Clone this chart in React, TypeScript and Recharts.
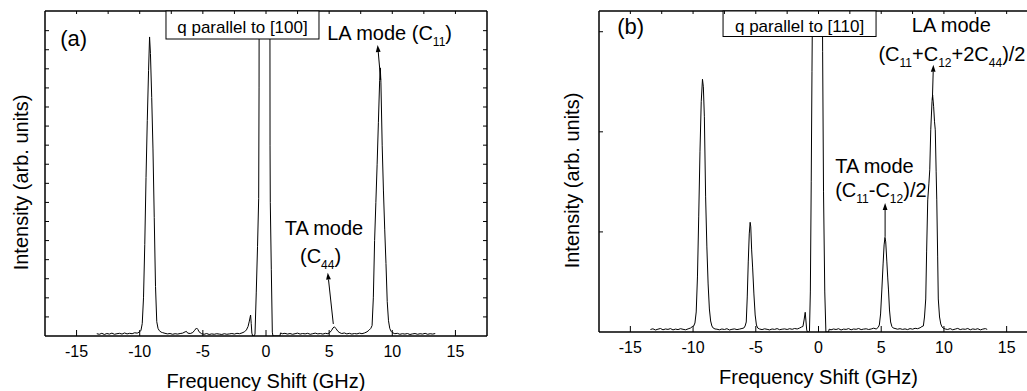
import { LineChart, Line, XAxis, YAxis, ReferenceDot, ReferenceLine } from "recharts";

type Pt = [number, number];

const FONT = "'Liberation Sans', Arial, Helvetica, sans-serif";
const SUB_DY = 6;

// ---- shared axis ticks (GHz) ----
const BOTTOM_TICKS = [-15, -10, -5, 0, 5, 10, 15];
const TOP_TICKS = [-15, -12.5, -10, -7.5, -5, -2.5, 0, 2.5, 5, 7.5, 10, 12.5, 15];
const X_DOMAIN: [number, number] = [-17.5, 17.5];

// ---- panel (a): q parallel to [100] ----
const A_Y_TICKS = [100, 200, 300, 400, 500, 600, 700, 800, 900, 1000, 1100, 1200, 1300, 1400, 1500, 1600];
const A_Y_TOP = 1703;

const A_BASE_1: Pt[] = [
  [-13.4, 12], [-13.2, 9], [-13.0, 14], [-12.8, 8], [-12.6, 13], [-12.4, 10], [-12.2, 15], [-12.0, 9],
  [-11.8, 12], [-11.6, 14], [-11.4, 10], [-11.2, 16], [-11.0, 11], [-10.8, 14], [-10.6, 12], [-10.4, 17], [-10.2, 15],
];
const A_PEAK_1: Pt[] = [
  [-10.0, 22], [-9.9, 30], [-9.8, 65], [-9.7, 200], [-9.6, 480], [-9.5, 830], [-9.4, 1130], [-9.3, 1390],
  [-9.22, 1567], [-9.15, 1480], [-9.05, 1250], [-8.95, 980], [-8.85, 620], [-8.75, 260], [-8.65, 75],
  [-8.55, 40], [-8.45, 28], [-8.3, 20],
];
const A_BASE_2: Pt[] = [
  [-8.2, 18], [-8.0, 14], [-7.8, 11], [-7.6, 13], [-7.4, 9], [-7.2, 12], [-7.0, 10], [-6.8, 13], [-6.6, 15],
  [-6.4, 22], [-6.3, 24], [-6.2, 15], [-6.0, 13], [-5.8, 18], [-5.65, 30], [-5.5, 42], [-5.4, 35], [-5.3, 22],
  [-5.1, 12], [-4.9, 9], [-4.7, 13], [-4.5, 8], [-4.3, 11], [-4.1, 9], [-3.9, 12], [-3.7, 10], [-3.5, 8],
  [-3.3, 12], [-3.1, 9], [-2.9, 11], [-2.7, 13], [-2.5, 10], [-2.3, 14], [-2.1, 12], [-1.9, 16],
];
const A_SPIKE: Pt[] = [
  [-1.7, 22], [-1.55, 32], [-1.42, 50], [-1.32, 78], [-1.22, 110], [-1.17, 65], [-1.12, 15], [-1.05, 0], [-0.95, 0],
];
const A_CENTER: Pt[] = [
  [-0.87, 10], [-0.77, 230], [-0.67, 470], [-0.58, 720], [-0.55, 1300], [-0.53, 2600], [-0.45, 4500],
  [-0.1, 6500], [0.25, 4500], [0.3, 2600], [0.32, 1000], [0.34, 700], [0.42, 350], [0.5, 20], [0.55, 0], [1.05, 0],
];
const A_BASE_3: Pt[] = [
  [1.1, 0], [1.15, 16], [1.3, 12], [1.5, 14], [1.7, 10], [1.9, 13], [2.1, 9], [2.3, 12], [2.5, 15], [2.7, 10],
  [2.9, 13], [3.1, 11], [3.3, 14], [3.5, 9], [3.7, 12], [3.9, 15], [4.1, 11], [4.3, 13], [4.5, 10], [4.7, 14],
  [4.9, 12], [5.05, 18], [5.2, 30], [5.3, 42], [5.42, 48], [5.55, 38], [5.7, 24], [5.85, 17], [6.0, 13],
  [6.2, 16], [6.4, 11], [6.6, 14], [6.8, 10], [7.0, 13], [7.2, 11], [7.4, 15], [7.6, 12], [7.8, 16], [8.0, 22], [8.15, 30],
];
const A_PEAK_LA: Pt[] = [
  [8.3, 40], [8.4, 55], [8.5, 200], [8.6, 500], [8.7, 700], [8.8, 900], [8.9, 1120], [9.0, 1340], [9.05, 1405],
  [9.1, 1330], [9.2, 1000], [9.3, 760], [9.4, 560], [9.5, 380], [9.6, 180], [9.7, 80], [9.8, 40], [9.9, 25],
];
const A_BASE_4: Pt[] = [
  [10.0, 18], [10.2, 12], [10.4, 14], [10.6, 9], [10.8, 12], [11.0, 10], [11.2, 13], [11.4, 8], [11.6, 11],
  [11.8, 13], [12.0, 9], [12.2, 12], [12.4, 10], [12.6, 14], [12.8, 9], [13.0, 12], [13.2, 10], [13.4, 13],
];

// ---- panel (b): q parallel to [110] ----
const B_Y_TICKS = [1000, 2000, 3000];
const B_Y_TOP = 3207;

const B_BASE_1: Pt[] = [
  [-13.4, 25], [-13.2, 32], [-13.0, 20], [-12.8, 28], [-12.6, 35], [-12.4, 22], [-12.2, 30], [-12.0, 26],
  [-11.8, 34], [-11.6, 21], [-11.4, 29], [-11.2, 24], [-11.0, 33], [-10.8, 27], [-10.6, 22], [-10.4, 31],
  [-10.2, 40], [-10.05, 55],
];
const B_PEAK_1: Pt[] = [
  [-9.95, 60], [-9.85, 90], [-9.75, 200], [-9.65, 550], [-9.55, 1150], [-9.45, 1800], [-9.35, 2300],
  [-9.25, 2525], [-9.18, 2450], [-9.1, 2150], [-9.0, 1350], [-8.9, 850], [-8.8, 480], [-8.7, 230],
  [-8.6, 110], [-8.5, 60], [-8.4, 40], [-8.25, 30],
];
const B_BASE_2: Pt[] = [
  [-8.1, 28], [-7.9, 22], [-7.7, 30], [-7.5, 25], [-7.3, 33], [-7.1, 20], [-6.9, 27], [-6.7, 31],
  [-6.5, 24], [-6.3, 29], [-6.1, 35],
];
const B_PEAK_2: Pt[] = [
  [-5.95, 40], [-5.85, 60], [-5.76, 100], [-5.68, 350], [-5.6, 700], [-5.52, 980], [-5.45, 1096],
  [-5.4, 1050], [-5.33, 820], [-5.25, 640], [-5.15, 380], [-5.05, 170], [-4.95, 70], [-4.85, 40],
];
const B_BASE_3: Pt[] = [
  [-4.7, 30], [-4.5, 24], [-4.3, 32], [-4.1, 27], [-3.9, 21], [-3.7, 30], [-3.5, 26], [-3.3, 34], [-3.1, 23],
  [-2.9, 28], [-2.7, 31], [-2.5, 25], [-2.3, 33], [-2.1, 27], [-1.9, 35], [-1.7, 30], [-1.5, 40], [-1.35, 50],
];
const B_SPIKE: Pt[] = [
  [-1.24, 55], [-1.15, 120], [-1.06, 197], [-1.0, 110], [-0.94, 20], [-0.88, 0],
];
const B_CENTER: Pt[] = [
  [-0.8, 0], [-0.72, 10], [-0.65, 400], [-0.58, 1500], [-0.52, 2600], [-0.46, 3600], [-0.1, 8000],
  [0.3, 3600], [0.33, 2800], [0.4, 1400], [0.5, 400], [0.59, 0], [0.8, 0],
];
const B_BASE_4: Pt[] = [
  [0.85, 28], [1.0, 22], [1.2, 30], [1.4, 25], [1.6, 33], [1.8, 20], [2.0, 29], [2.2, 26], [2.4, 34], [2.6, 22],
  [2.8, 30], [3.0, 27], [3.2, 35], [3.4, 24], [3.6, 29], [3.8, 32], [4.0, 25], [4.2, 30], [4.4, 38], [4.6, 30],
];
const B_PEAK_TA: Pt[] = [
  [4.75, 45], [4.85, 70], [4.95, 180], [5.05, 420], [5.15, 680], [5.23, 870], [5.3, 946], [5.36, 900],
  [5.45, 700], [5.52, 540], [5.58, 420], [5.66, 220], [5.75, 100], [5.85, 55], [5.95, 40],
];
const B_BASE_5: Pt[] = [
  [6.1, 35], [6.3, 28], [6.5, 33], [6.7, 26], [6.9, 31], [7.1, 24], [7.3, 34], [7.5, 28], [7.7, 37],
  [7.9, 33], [8.1, 42], [8.25, 55],
];
const B_PEAK_LA: Pt[] = [
  [8.36, 60], [8.45, 150], [8.55, 330], [8.62, 800], [8.71, 1320], [8.8, 1480], [8.87, 1620], [8.95, 2020],
  [9.05, 2300], [9.1, 2368], [9.18, 2250], [9.25, 2100], [9.31, 2020], [9.38, 1600], [9.43, 1320],
  [9.5, 750], [9.55, 330], [9.65, 150], [9.75, 80], [9.85, 50], [9.95, 38],
];
const B_BASE_6: Pt[] = [
  [10.1, 30], [10.3, 25], [10.5, 34], [10.7, 22], [10.9, 29], [11.1, 36], [11.3, 24], [11.5, 30], [11.7, 27],
  [11.9, 35], [12.1, 22], [12.3, 31], [12.5, 26], [12.7, 33], [12.9, 21], [13.1, 29], [13.3, 34], [13.45, 26],
];

const toRows = (segs: Pt[][]) => segs.flat().map(([f, i]) => ({ f, i }));

const A_DATA = toRows([A_BASE_1, A_PEAK_1, A_BASE_2, A_SPIKE, A_CENTER, A_BASE_3, A_PEAK_LA, A_BASE_4]);
const B_DATA = toRows([B_BASE_1, B_PEAK_1, B_BASE_2, B_PEAK_2, B_BASE_3, B_SPIKE, B_CENTER, B_BASE_4, B_PEAK_TA, B_BASE_5, B_PEAK_LA, B_BASE_6]);

// ---- annotations (data coordinates) ----
type Note = { x: number; y: number; text: string; size: number; anchor: "start" | "middle" };
type Arrow = { from: Pt; to: Pt };
type Box = { x: number; y: number; w: number; h: number; text: string; base: number };

const A_NOTES: Note[] = [
  { x: -16.3, y: 1517, text: "(a)", size: 22, anchor: "start" },
  { x: 4.85, y: 1551, text: "LA mode (C_{11})", size: 20, anchor: "start" },
  { x: 4.59, y: 529, text: "TA mode", size: 20, anchor: "middle" },
  { x: 4.32, y: 381, text: "(C_{44})", size: 20, anchor: "middle" },
];
const A_ARROWS: Arrow[] = [
  { from: [9.08, 1342], to: [8.84, 1525] },
  { from: [5.33, 63], to: [4.89, 332] },
];
const A_BOX: Box = { x: -7.92, y: A_Y_TOP, w: 153, h: 28, text: "q parallel to [100]", base: 22 };

const B_NOTES: Note[] = [
  { x: -16.05, y: 2980, text: "(b)", size: 22, anchor: "start" },
  { x: 10.59, y: 2997, text: "LA mode", size: 20, anchor: "middle" },
  { x: 4.78, y: 2703, text: "(C_{11}+C_{12}+2C_{44})/2", size: 20, anchor: "start" },
  { x: 1.33, y: 1587, text: "TA mode", size: 20, anchor: "start" },
  { x: 1.33, y: 1353, text: "(C_{11}-C_{12})/2", size: 20, anchor: "start" },
];
const B_ARROWS: Arrow[] = [
  { from: [9.08, 2320], to: [9.16, 2670] },
  { from: [5.31, 950], to: [5.31, 1290] },
];
const B_BOX: Box = { x: -7.61, y: B_Y_TOP, w: 153, h: 25.5, text: "q parallel to [110]", base: 20.5 };

const AXIS = { stroke: "#000", strokeWidth: 1.5 };

const RichText = ({ cx, cy, text, size, anchor }: any) => {
  const parts: string[] = text.split(/(_\{[^}]*\})/).filter((s: string) => s.length > 0);
  let shifted = false;
  return (
    <text x={cx} y={cy} fontSize={size} textAnchor={anchor} fontFamily={FONT} fill="#000">
      {parts.map((s, i) => {
        if (s.startsWith("_{")) {
          const el = (
            <tspan key={i} dy={shifted ? 0 : SUB_DY} fontSize={12}>
              {s.slice(2, -1)}
            </tspan>
          );
          shifted = true;
          return el;
        }
        const el = (
          <tspan key={i} dy={shifted ? -SUB_DY : 0}>
            {s}
          </tspan>
        );
        shifted = false;
        return el;
      })}
    </text>
  );
};

const ArrowShape = (p: any) => {
  const { x1, y1, x2, y2 } = p;
  const dx = x2 - x1;
  const dy = y2 - y1;
  const len = Math.hypot(dx, dy) || 1;
  const ux = dx / len;
  const uy = dy / len;
  const hl = 7;
  const hw = 2.4;
  const bx = x2 - ux * hl;
  const by = y2 - uy * hl;
  return (
    <g>
      <line x1={x1} y1={y1} x2={bx} y2={by} stroke="#000" strokeWidth={1} />
      <polygon
        points={`${x2},${y2} ${bx - uy * hw},${by + ux * hw} ${bx + uy * hw},${by - ux * hw}`}
        fill="#000"
      />
    </g>
  );
};

const YTitle = ({ tx, ty }: any) => (
  <text
    x={tx}
    y={ty}
    transform={`rotate(-90, ${tx}, ${ty})`}
    textAnchor="middle"
    fontSize={20}
    fontFamily={FONT}
    fill="#000"
  >
    Intensity (arb. units)
  </text>
);

const XTitle = ({ tx, ty }: any) => (
  <text x={tx} y={ty} textAnchor="middle" fontSize={20} fontFamily={FONT} fill="#000">
    Frequency Shift (GHz)
  </text>
);

type PanelCfg = {
  left: number;
  width: number;
  data: { f: number; i: number }[];
  yTop: number;
  yTicks: number[];
  margin: { top: number; right: number; bottom: number; left: number };
  yAxisWidth: number;
  plot: { left: number; right: number; top: number; bottom: number };
  yTitleX: number;
  notes: Note[];
  arrows: Arrow[];
  box: Box;
};

const Panel = ({ cfg }: { cfg: PanelCfg }) => {
  const { plot } = cfg;
  // bottom axis carries every 2.5 GHz position: short inward marks on the top edge,
  // longer inward marks plus labels on the bottom edge at the 5 GHz steps
  const bottomTick = (p: any) => {
    const v = p.payload.value;
    const major = BOTTOM_TICKS.includes(v);
    return (
      <g>
        <line x1={p.x} x2={p.x} y1={plot.top} y2={plot.top + 3} stroke="#000" strokeWidth={1} />
        {major && <line x1={p.x} x2={p.x} y1={plot.bottom} y2={plot.bottom - 6} stroke="#000" strokeWidth={1} />}
        {major && (
          <text x={p.x} y={plot.bottom + 21} textAnchor="middle" fontSize={16} fontFamily={FONT} fill="#000">
            {v}
          </text>
        )}
      </g>
    );
  };
  const leftTick = (p: any) => (
    <line x1={plot.left} x2={plot.left + 4} y1={p.y} y2={p.y} stroke="#000" strokeWidth={1} />
  );
  const rightTick = (p: any) => (
    <line x1={plot.right} x2={plot.right - 4} y1={p.y} y2={p.y} stroke="#000" strokeWidth={1} />
  );
  const midY = (plot.top + plot.bottom) / 2 + 9;
  const midX = (plot.left + plot.right) / 2;

  return (
    <div style={{ position: "absolute", left: cfg.left, top: 0 }}>
      <LineChart width={cfg.width} height={391} data={cfg.data} margin={cfg.margin}>
        <XAxis
          xAxisId="b"
          dataKey="f"
          type="number"
          domain={X_DOMAIN}
          allowDataOverflow
          ticks={TOP_TICKS}
          interval={0}
          height={30}
          tickLine={false}
          tick={bottomTick}
          axisLine={AXIS}
          label={<XTitle tx={midX} ty={plot.bottom + 52} />}
        />
        <XAxis
          xAxisId="t"
          dataKey="f"
          orientation="top"
          type="number"
          domain={X_DOMAIN}
          allowDataOverflow
          height={1}
          tickLine={false}
          tick={false}
          axisLine={AXIS}
        />
        <YAxis
          yAxisId="l"
          type="number"
          domain={[0, cfg.yTop]}
          allowDataOverflow
          ticks={cfg.yTicks}
          interval={0}
          width={cfg.yAxisWidth}
          tickLine={false}
          tick={leftTick}
          axisLine={AXIS}
          label={<YTitle tx={cfg.yTitleX} ty={midY} />}
        />
        <YAxis
          yAxisId="r"
          orientation="right"
          type="number"
          domain={[0, cfg.yTop]}
          allowDataOverflow
          ticks={cfg.yTicks}
          interval={0}
          width={1}
          tickLine={false}
          tick={rightTick}
          axisLine={AXIS}
        />
        <Line
          xAxisId="b"
          yAxisId="l"
          type="linear"
          dataKey="i"
          stroke="#000"
          strokeWidth={1}
          dot={false}
          isAnimationActive={false}
        />
        <ReferenceDot
          xAxisId="b"
          yAxisId="l"
          x={cfg.box.x}
          y={cfg.box.y}
          r={1}
          ifOverflow="visible"
          shape={(p: any) => (
            <g>
              <rect x={p.cx} y={p.cy} width={cfg.box.w} height={cfg.box.h} fill="#fff" stroke="#000" strokeWidth={1} />
              <text
                x={p.cx + cfg.box.w / 2}
                y={p.cy + cfg.box.base}
                textAnchor="middle"
                fontSize={17}
                fontFamily={FONT}
                fill="#000"
              >
                {cfg.box.text}
              </text>
            </g>
          )}
        />
        {cfg.arrows.map((a, k) => (
          <ReferenceLine
            key={`ar${k}`}
            xAxisId="b"
            yAxisId="l"
            segment={[
              { x: a.from[0], y: a.from[1] },
              { x: a.to[0], y: a.to[1] },
            ]}
            ifOverflow="visible"
            shape={ArrowShape}
          />
        ))}
        {cfg.notes.map((n, k) => (
          <ReferenceDot
            key={`n${k}`}
            xAxisId="b"
            yAxisId="l"
            x={n.x}
            y={n.y}
            r={1}
            ifOverflow="visible"
            shape={(p: any) => <RichText cx={p.cx} cy={p.cy} text={n.text} size={n.size} anchor={n.anchor} />}
          />
        ))}
      </LineChart>
    </div>
  );
};

const PANEL_A: PanelCfg = {
  left: 0,
  width: 520,
  data: A_DATA,
  yTop: A_Y_TOP,
  yTicks: A_Y_TICKS,
  margin: { top: 10, right: 32, bottom: 25, left: 0 },
  yAxisWidth: 45,
  plot: { left: 45, right: 487, top: 11, bottom: 336 },
  yTitleX: 28,
  notes: A_NOTES,
  arrows: A_ARROWS,
  box: A_BOX,
};

const PANEL_B: PanelCfg = {
  left: 560,
  width: 520,
  data: B_DATA,
  yTop: B_Y_TOP,
  yTicks: B_Y_TICKS,
  margin: { top: 10, right: 41, bottom: 29, left: 0 },
  yAxisWidth: 39,
  plot: { left: 39, right: 478, top: 11, bottom: 332 },
  yTitleX: 19,
  notes: B_NOTES,
  arrows: B_ARROWS,
  box: B_BOX,
};

export default function App() {
  return (
    <div
      style={{
        position: "absolute",
        left: 0,
        top: 0,
        width: 1027,
        height: 391,
        overflow: "hidden",
        background: "#fff",
      }}
    >
      <Panel cfg={PANEL_A} />
      <Panel cfg={PANEL_B} />
    </div>
  );
}
